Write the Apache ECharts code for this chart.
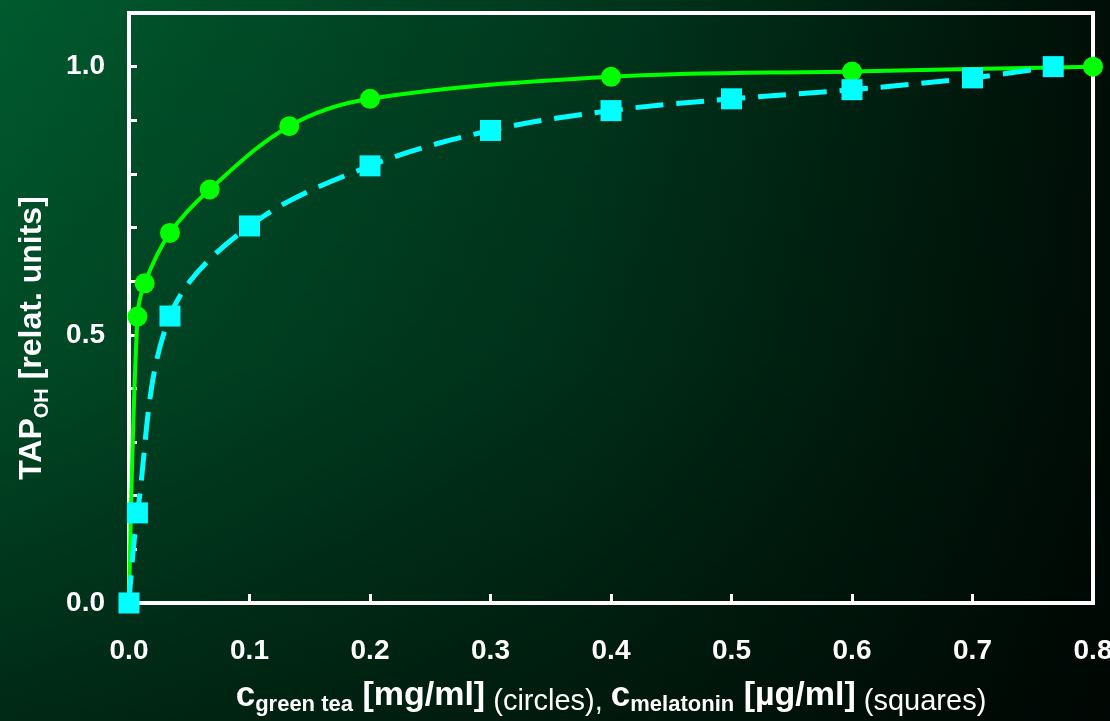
<!DOCTYPE html>
<html>
<head>
<meta charset="utf-8">
<script src="https://cdn.jsdelivr.net/npm/echarts@6/dist/echarts.min.js"></script>
<style>
html, body { margin: 0; padding: 0; }
#chart {
	width: 1110px; height: 721px;
	background:
		linear-gradient(to bottom, rgba(0,0,0,0) 0%, rgba(0,0,0,0.18) 50%, rgba(0,0,0,0.55) 100%),
		linear-gradient(to right, #005a2e 0%, #003a1e 50%, #000e07 100%);
}
</style>
</head>
<body>
<div id="chart"></div>
<script>
// green tea (circles)
var teaX = [0, 0.007, 0.013, 0.034, 0.067, 0.133, 0.2, 0.4, 0.6, 0.8];
var teaY = [0, 0.534, 0.596, 0.690, 0.771, 0.889, 0.940, 0.981, 0.991, 1.0];
// melatonin (squares)
var melX = [0, 0.007, 0.034, 0.1, 0.2, 0.3, 0.4, 0.5, 0.6, 0.7, 0.767];
var melY = [0, 0.168, 0.535, 0.703, 0.815, 0.881, 0.918, 0.940, 0.957, 0.979, 1.0];

var font = 'Liberation Sans, Arial, sans-serif';

var teaData = teaX.map((x, i) => [x, teaY[i]]);
var melData = melX.map((x, i) => [x, melY[i]]);

var option = {
	animation: false,
	backgroundColor: 'transparent',
	grid: {
		left: 129, right: 17, top: 13, bottom: 118,
		outerBoundsMode: 'none',
		containLabel: false,
		show: true, borderColor: '#fff', borderWidth: 4
	},
	xAxis: {
		type: 'value',
		min: 0, max: 0.8, interval: 0.1,
		splitLine: { show: false },
		axisLine: { lineStyle: { color: '#fff', width: 4 } },
		axisTick: { inside: true, length: 9, lineStyle: { color: '#fff', width: 3 } },
		axisLabel: {
			color: '#fff', fontFamily: font, fontWeight: 'bold', fontSize: 28, margin: 34,
			formatter: v => v.toFixed(1)
		},
		name: '{c|c}{s|green tea}{b| [mg/ml]}{n| (circles), }{c|c}{s|melatonin}{b| [\u00b5g/ml]}{n| (squares)}',
		nameLocation: 'middle',
		nameGap: 73,
		nameTextStyle: {
			color: '#fff',
			rich: {
				c: { color: '#fff', fontFamily: font, fontWeight: 'bold', fontSize: 35, lineHeight: 40, verticalAlign: 'middle' },
				b: { color: '#fff', fontFamily: font, fontWeight: 'bold', fontSize: 34, lineHeight: 40, verticalAlign: 'middle' },
				s: { color: '#fff', fontFamily: font, fontWeight: 'bold', fontSize: 22, lineHeight: 20, verticalAlign: 'bottom' },
				n: { color: '#fff', fontFamily: font, fontSize: 29, lineHeight: 36, verticalAlign: 'bottom' }
			}
		}
	},
	yAxis: {
		type: 'value',
		min: 0, max: 1.1, interval: 0.1,
		splitLine: { show: false },
		axisLine: { lineStyle: { color: '#fff', width: 4 } },
		axisTick: { inside: true, length: 8, lineStyle: { color: '#fff', width: 3 } },
		axisLabel: {
			color: '#fff', fontFamily: font, fontWeight: 'bold', fontSize: 28, margin: 24,
			formatter: v => Math.abs(v * 2 - Math.round(v * 2)) < 1e-6 && v < 1.05 ? v.toFixed(1) : ''
		}
	},
	graphic: [{
		type: 'text',
		x: 32, y: 338,
		rotation: Math.PI / 2,
		style: {
			text: '{b|TAP}{s|OH}{b| [relat. units]}',
			fill: '#fff',
			align: 'center',
			verticalAlign: 'middle',
			rich: {
				b: { fill: '#fff', fontFamily: font, fontWeight: 'bold', fontSize: 32, lineHeight: 40, verticalAlign: 'middle' },
				s: { fill: '#fff', fontFamily: font, fontWeight: 'bold', fontSize: 20, lineHeight: 20, verticalAlign: 'bottom' }
			}
		}
	}],
	series: [
		{
			name: 'green tea',
			type: 'line',
			data: teaData,
			smooth: 0.35,
			symbol: 'circle',
			symbolSize: 20,
			color: '#00ff00',
			itemStyle: { color: '#00ff00' },
			lineStyle: { color: '#00ff00', width: 4 }
		},
		{
			name: 'melatonin',
			type: 'line',
			data: melData,
			smooth: 0.35,
			symbol: 'rect',
			symbolSize: 21,
			color: '#00ffff',
			itemStyle: { color: '#00ffff' },
			lineStyle: { color: '#00ffff', width: 5, type: [28, 13] }
		}
	]
};

var chart = echarts.init(document.getElementById('chart'));
chart.setOption(option);
</script>
</body>
</html>
